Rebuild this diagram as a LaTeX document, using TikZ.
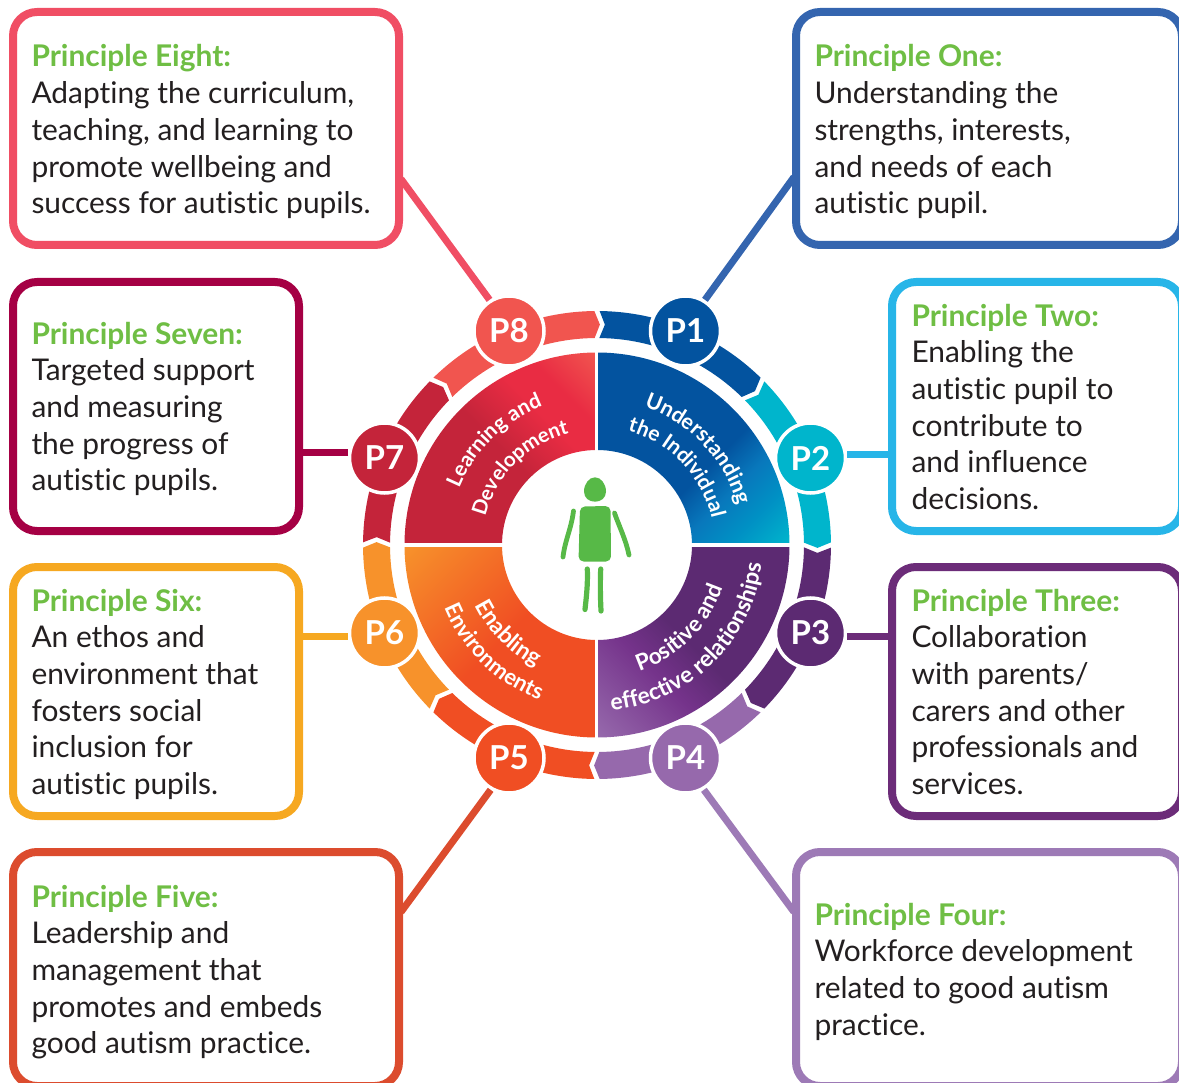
\documentclass[tikz,border=0pt]{standalone}
\usepackage{fontspec}
\setmainfont{Lato}[Ligatures=CommonOff]
\usetikzlibrary{decorations.text,calc}
\definecolor{hgreen}{HTML}{6FBE44}
\definecolor{pgreen}{HTML}{57B947}
\definecolor{ink}{HTML}{231F20}
\definecolor{bxA}{HTML}{3465AF}\definecolor{bxB}{HTML}{27B5E8}\definecolor{bxC}{HTML}{6C2C79}\definecolor{bxD}{HTML}{9D7AB6}
\definecolor{bxE}{HTML}{DC4C2E}\definecolor{bxF}{HTML}{F6A821}\definecolor{bxG}{HTML}{A50044}\definecolor{bxH}{HTML}{F04E64}
\definecolor{rgA}{HTML}{03539F}\definecolor{rgB}{HTML}{00B5CC}\definecolor{rgC}{HTML}{5C2A72}\definecolor{rgD}{HTML}{9669AC}
\definecolor{rgE}{HTML}{F04E23}\definecolor{rgF}{HTML}{F7922B}\definecolor{rgG}{HTML}{C4243A}\definecolor{rgH}{HTML}{F1554F}
\definecolor{midRed}{HTML}{E92C43}\definecolor{midPur}{HTML}{75338B}\definecolor{midBluA}{HTML}{0878BC}\definecolor{midBluB}{HTML}{0090C4}
\pgfdeclareverticalshading{shBlue}{100bp}{color(0bp)=(rgB);color(15bp)=(rgB);color(26bp)=(midBluB);color(35bp)=(midBluA);color(44bp)=(rgA);color(100bp)=(rgA)}
\pgfdeclareverticalshading{shRed}{100bp}{color(0bp)=(rgG);color(50bp)=(rgG);color(64bp)=(midRed);color(72bp)=(midRed);color(85bp)=(rgH);color(100bp)=(rgH)}
\pgfdeclareverticalshading{shOrange}{100bp}{color(0bp)=(rgE);color(50bp)=(rgE);color(85bp)=(rgF);color(100bp)=(rgF)}
\pgfdeclareverticalshading{shPurple}{100bp}{color(0bp)=(rgD);color(15bp)=(rgD);color(37bp)=(midPur);color(49bp)=(rgC);color(100bp)=(rgC)}
\newcommand\headline[1]{\rule{0pt}{24pt}{\color{hgreen}\bfseries #1}}
\newcommand\arclabel[5]{\path[decorate,decoration={text along path,text color=white,text={|\fontsize{#5}{24}\selectfont\bfseries|#4},text align={center}}] (#2:#1) arc[start angle=#2,end angle=#3,radius=#1];}
\tikzset{
 pbox/.style={draw=#1,fill=white,line width=8pt,rounded corners=24pt,inner sep=0pt},
 ptext/.style={anchor=north west,inner sep=0pt,outer sep=0pt,align=left,text=ink,font=\fontsize{29.9}{36.7}\selectfont},
 pcirc/.style={circle,fill=#1,draw=white,line width=3.5pt,minimum size=70pt,inner sep=0pt,text=white,font=\fontsize{33}{36}\selectfont\bfseries},
 link/.style={draw=#1,line width=7pt},
 limb/.style={draw=pgreen,line cap=round,line width=#1},
}
\begin{document}
\begin{tikzpicture}[x=1pt,y=-1pt]
\useasboundingbox (0,0) rectangle (1179,1083);
\clip (0,0) rectangle (1179,1083);
% boxes
\node[pbox=bxH,minimum width=386pt,minimum height=233pt] (b8) at (206,128.5) {};
\node[pbox=bxA,minimum width=386pt,minimum height=233pt] (b1) at (989,128.5) {};
\node[pbox=bxG,minimum width=286pt,minimum height=249pt] (b7) at (156,406.5) {};
\node[pbox=bxB,minimum width=290pt,minimum height=249pt] (b2) at (1037,406.5) {};
\node[pbox=bxF,minimum width=286pt,minimum height=249pt] (b6) at (156,691.5) {};
\node[pbox=bxC,minimum width=290pt,minimum height=249pt] (b3) at (1037,691.5) {};
\node[pbox=bxE,minimum width=386pt,minimum height=234pt] (b5) at (206,969) {};
\node[pbox=bxD,minimum width=386pt,minimum height=234pt] (b4) at (989,969) {};
% texts
\node[ptext] (t8) at (31.5,43) {\headline{Principle Eight:}\\Adapting the curriculum,\\teaching, and learning to\\promote wellbeing and\\success for autistic pupils.};
\node[ptext] (t1) at (814.5,43) {\headline{Principle One:}\\Understanding the\\strengths, interests,\\and needs of each\\autistic pupil.};
\node[ptext] (t7) at (31.5,320) {\headline{Principle Seven:}\\Targeted support\\and measuring\\the progress of\\autistic pupils.};
\node[ptext] (t2) at (911.5,302) {\headline{Principle Two:}\\Enabling the\\autistic pupil to\\contribute to\\and influence\\decisions.};
\node[ptext] (t6) at (31.5,587) {\headline{Principle Six:}\\An ethos and\\environment that\\fosters social\\inclusion for\\autistic pupils.};
\node[ptext] (t3) at (911.5,587) {\headline{Principle Three:}\\Collaboration\\with parents/\\carers and other\\professionals and\\services.};
\node[ptext] (t5) at (31.5,883) {\headline{Principle Five:}\\Leadership and\\management that\\promotes and embeds\\good autism practice.};
\node[ptext] (t4) at (814.5,901) {\headline{Principle Four:}\\Workforce development\\related to good autism\\practice.};
% ring and quadrants
\begin{scope}[shift={(597,545)},y=1pt]
 \foreach \st/\col in {90/rgA,45/rgB,0/rgC,-45/rgD,-90/rgE,-135/rgF,-180/rgG,-225/rgH}{
  \pgfmathsetmacro\aa{\st-0.65}
  \pgfmathsetmacro\ab{\st-45+0.65}
  \pgfmathsetmacro\at{\ab-1.4}
  \pgfmathsetmacro\an{\aa-1.4}
  \fill[\col] (\aa:234) arc[start angle=\aa,end angle=\ab,radius=234] -- (\at:220.5) -- (\ab:207)
     arc[start angle=\ab,end angle=\aa,radius=207] -- (\an:220.5) -- cycle;
 }
 \shade[shading=shBlue,shading angle=45] (0:95) -- (0:192.5) arc[start angle=0,end angle=90,radius=192.5] -- (90:95) arc[start angle=90,end angle=0,radius=95] -- cycle;
 \shade[shading=shRed,shading angle=-45] (90:95) -- (90:192.5) arc[start angle=90,end angle=180,radius=192.5] -- (180:95) arc[start angle=180,end angle=90,radius=95] -- cycle;
 \shade[shading=shOrange,shading angle=45] (180:95) -- (180:192.5) arc[start angle=180,end angle=270,radius=192.5] -- (270:95) arc[start angle=270,end angle=180,radius=95] -- cycle;
 \shade[shading=shPurple,shading angle=-45] (270:95) -- (270:192.5) arc[start angle=270,end angle=360,radius=192.5] -- (0:95) arc[start angle=360,end angle=270,radius=95] -- cycle;
 \draw[white,line width=3.5pt] (-0.5,90) -- (-0.5,200) (-0.5,-90) -- (-0.5,-200) (-200,0) -- (-90,0) (90,0) -- (200,0);
 \arclabel{149}{170}{99}{Learning and}{21}
 \arclabel{115}{180}{90}{Development}{20.5}
 \arclabel{146}{83}{4}{Understanding}{21.5}
 \arclabel{118}{89}{-1}{the Individual}{21}
 \arclabel{133}{-85}{-5}{Positive and}{22.5}
 \arclabel{166}{-90}{-1.5}{effective relationships}{23}
 \arclabel{136}{-175}{-95.5}{Enabling}{23}
 \arclabel{165}{-174}{-94}{Environments}{22}
\end{scope}
% circles
\node[pcirc=rgA] (c1) at (685.5,331) {P1};
\node[pcirc=rgB] (c2) at (810.5,458) {P2};
\node[pcirc=rgC] (c3) at (810.5,633) {P3};
\node[pcirc=rgD] (c4) at (685.5,758) {P4};
\node[pcirc=rgE] (c5) at (509,758) {P5};
\node[pcirc=rgF] (c6) at (384.5,633) {P6};
\node[pcirc=rgG] (c7) at (384.5,458) {P7};
\node[pcirc=rgH] (c8) at (509,331) {P8};
% connectors
\coordinate (a1) at (794,177);
\coordinate (a4) at (794,912);
\coordinate (a5) at (401,912);
\coordinate (a8) at (401,179);
\draw[link=bxA] (c1.58) -- (a1);
\draw[link=bxB] (c2.6) -- (c2.6 -| b2.west);
\draw[link=bxC] (c3.-6) -- (c3.-6 -| b3.west);
\draw[link=bxD] (c4.-60) -- (a4);
\draw[link=bxE] (c5.-120) -- (a5);
\draw[link=bxF] (c6.-174) -- (c6.-174 -| b6.east);
\draw[link=bxG] (c7.172) -- (c7.172 -| b7.east);
\draw[link=bxH] (c8.122) -- (a8);
% person
\fill[pgreen] (595,477.3) .. controls (601,477.3) and (606,484) .. (606,491.5) .. controls (606,498) and (601,501.7) .. (595,501.7) .. controls (589,501.7) and (584,498) .. (584,491.5) .. controls (584,484) and (589,477.3) .. (595,477.3) -- cycle;
\fill[pgreen,rounded corners=5pt] (580,506.5) -- (610.5,506) -- (611,561.5) -- (578.5,561.5) -- cycle;
\draw[limb=4.8pt] (573.5,511) .. controls (571,530) and (565,540) .. (563,557);
\draw[limb=4.8pt] (614.5,513) .. controls (619,526) and (626,540) .. (629,555);
\draw[limb=5.2pt] (587.3,569) .. controls (588,585) and (586,600) .. (585,609.5);
\draw[limb=5.2pt] (600.7,569) .. controls (600,585) and (600.5,600) .. (601,611);
\end{tikzpicture}
\end{document}
